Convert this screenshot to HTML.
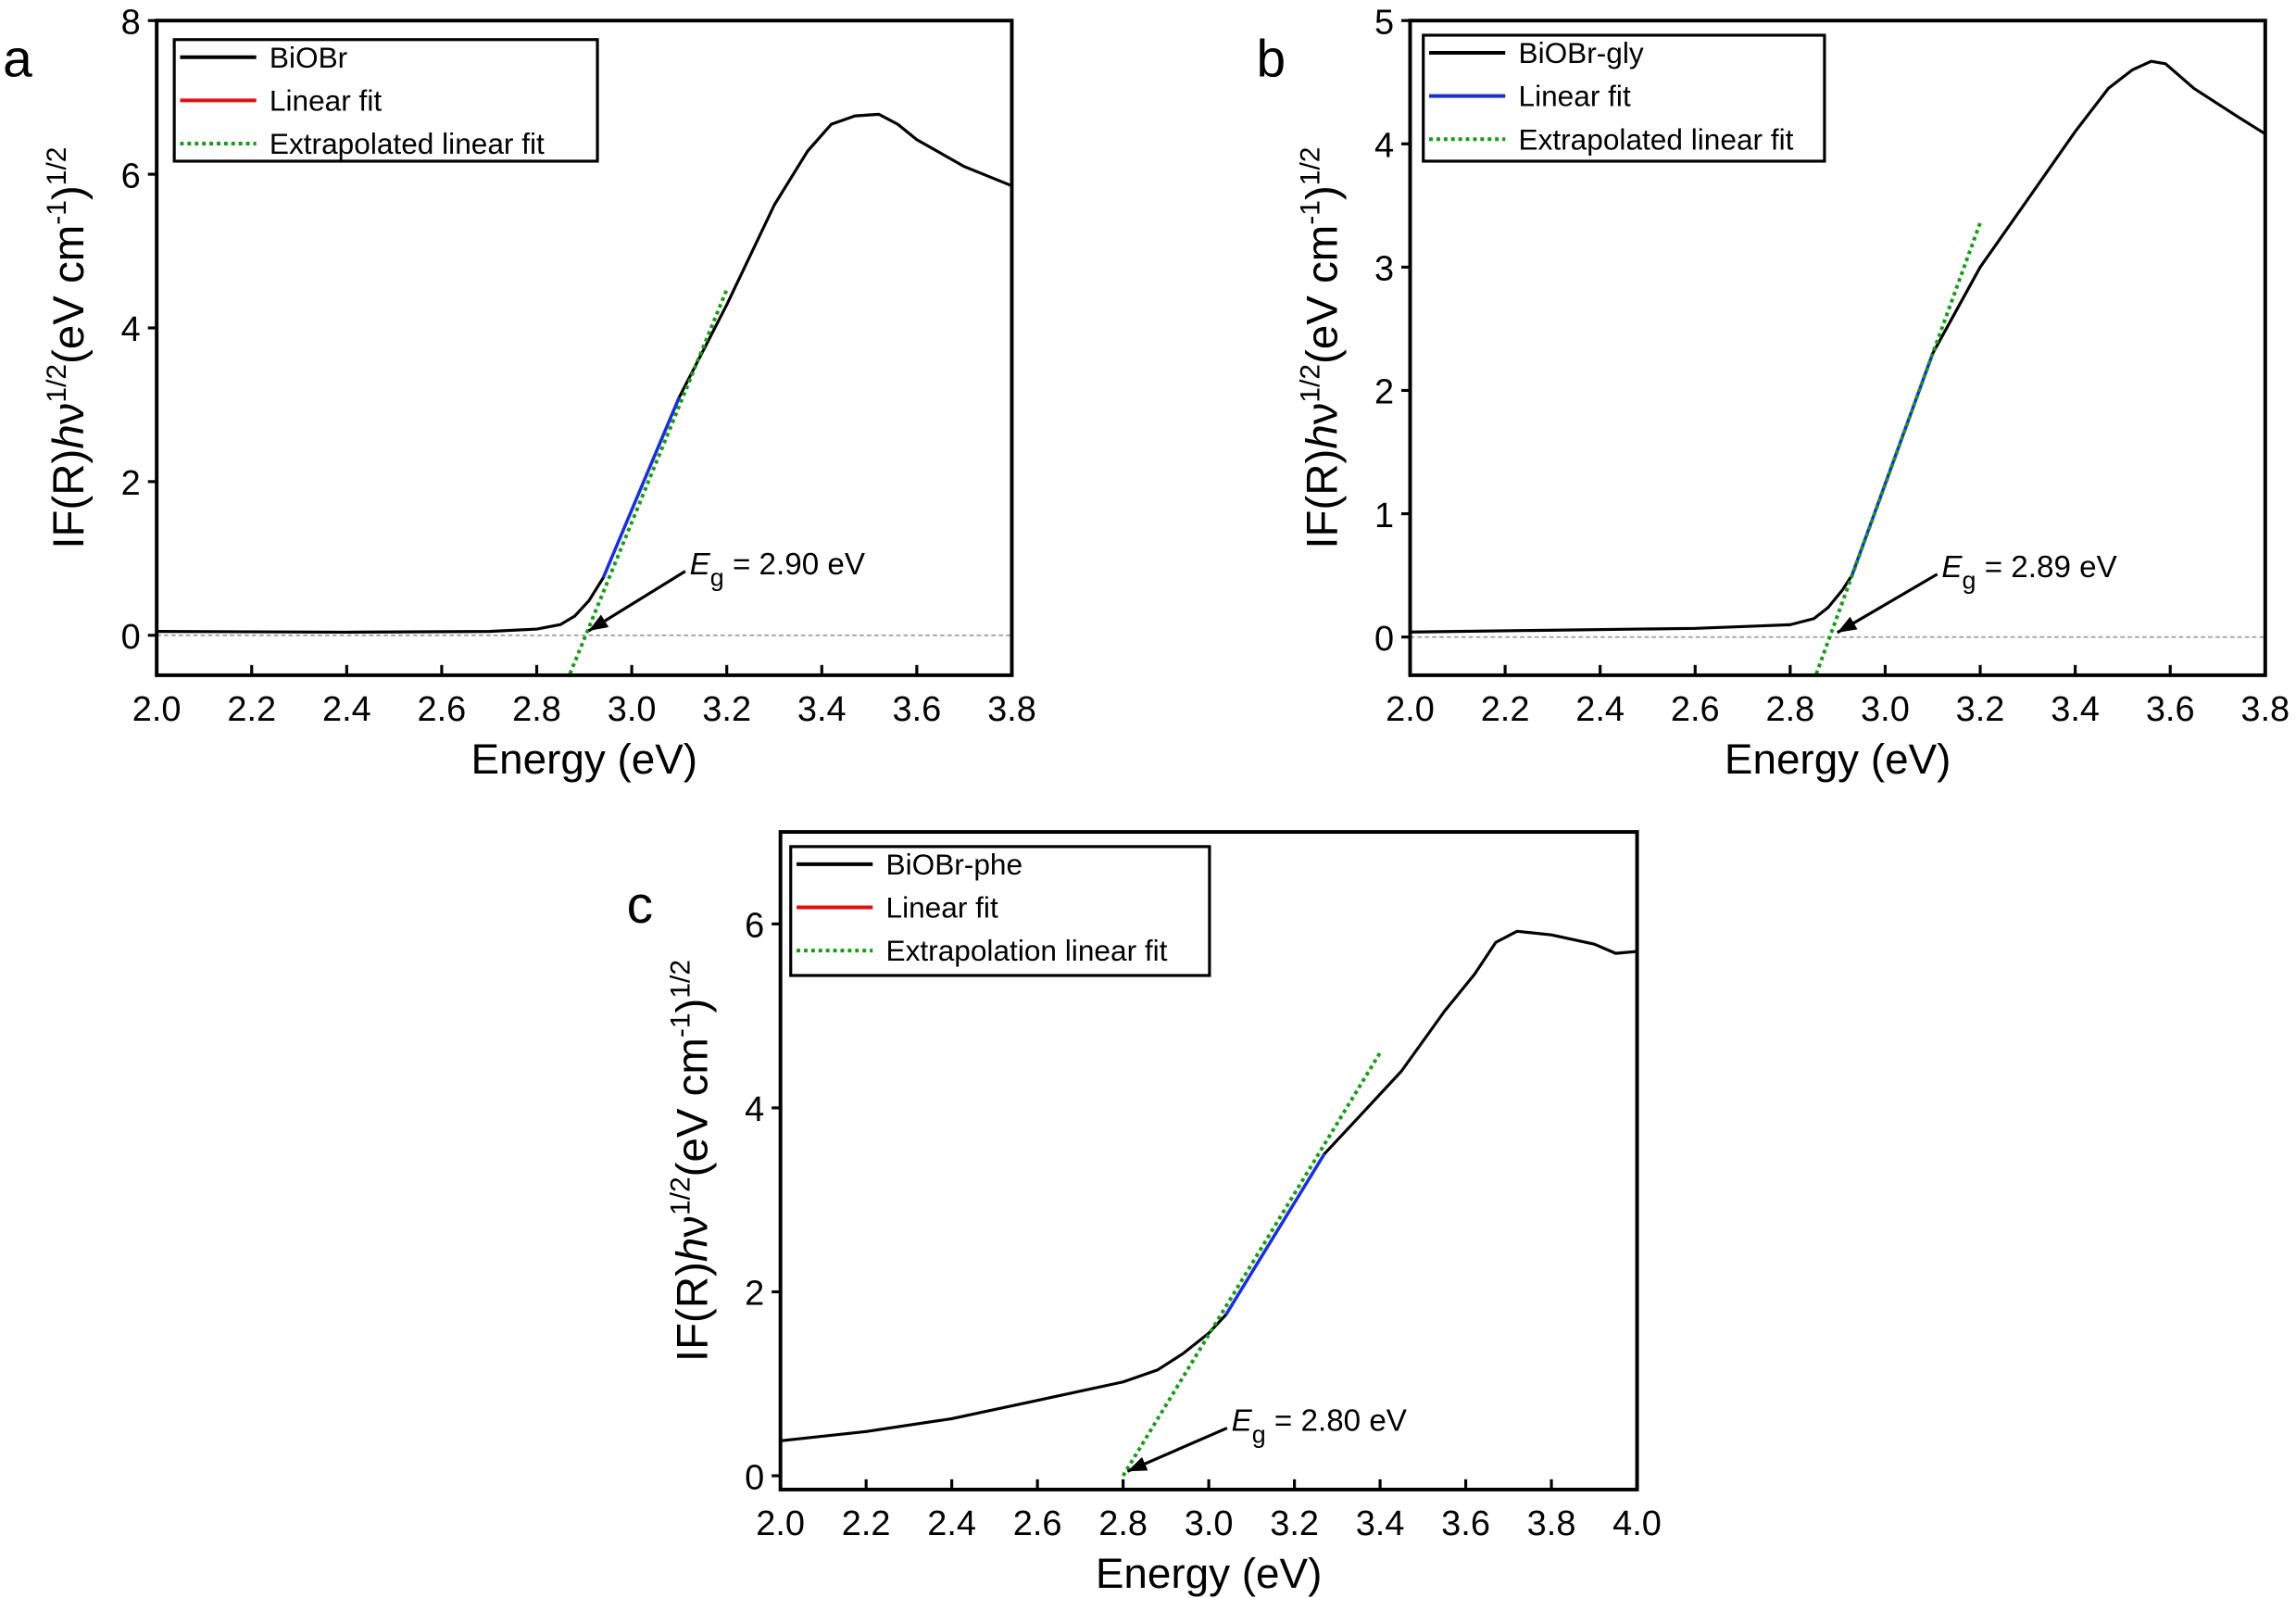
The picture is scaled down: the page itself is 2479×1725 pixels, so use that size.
<!DOCTYPE html>
<html><head><meta charset="utf-8"><style>
html,body{margin:0;padding:0;background:#fff}
svg{display:block}
text{font-family:"Liberation Sans",Arial,sans-serif;fill:#000}
</style></head><body>
<svg id="fig" width="2479" height="1725" viewBox="0 0 1568 1091" xmlns="http://www.w3.org/2000/svg"></svg>
<script>
// Panel a data
const aX=[2.0,2.4,2.7,2.8,2.85,2.88,2.91,2.94,3.0,3.1,3.2,3.3,3.37,3.42,3.47,3.52,3.56,3.6,3.7,3.8];
const aY=[0.05,0.04,0.05,0.08,0.14,0.25,0.45,0.75,1.63,3.1,4.3,5.6,6.3,6.65,6.76,6.78,6.65,6.45,6.1,5.85];
const aFitX=[2.94,3.1]; const aFitY=[0.75,3.1];
const aExtX=[2.87,3.2]; const aExtY=[-0.5,4.5];
// Panel b data
const bX=[2.0,2.6,2.8,2.85,2.88,2.91,2.93,3.0,3.1,3.2,3.3,3.4,3.47,3.52,3.56,3.59,3.65,3.75,3.8];
const bY=[0.04,0.07,0.1,0.15,0.24,0.38,0.5,1.24,2.3,3.0,3.55,4.1,4.45,4.6,4.67,4.65,4.45,4.2,4.08];
const bFitX=[2.93,3.1]; const bFitY=[0.5,2.3];
const bExtX=[2.855,3.2]; const bExtY=[-0.3,3.36];
// Panel c data
const cX=[2.0,2.2,2.4,2.6,2.8,2.88,2.94,3.0,3.04,3.1,3.27,3.35,3.45,3.55,3.62,3.67,3.72,3.8,3.9,3.95,4.0];
const cY=[0.38,0.48,0.62,0.82,1.02,1.15,1.33,1.55,1.75,2.21,3.5,3.9,4.4,5.05,5.45,5.8,5.92,5.88,5.78,5.68,5.7];
const cFitX=[3.04,3.27]; const cFitY=[1.75,3.5];
const cExtX=[2.8,3.4]; const cExtY=[0,4.6];
const aXTicks=[2.0,2.2,2.4,2.6,2.8,3.0,3.2,3.4,3.6,3.8];
const aYTicks=[0,2,4,6,8];
const bYTicks=[0,1,2,3,4,5];
const cXTicks=[2.0,2.2,2.4,2.6,2.8,3.0,3.2,3.4,3.6,3.8,4.0];
const cYTicks=[0,2,4,6];

const NS="http://www.w3.org/2000/svg";
const svg=document.getElementById('fig');
function mk(tag,attrs,parent){const e=document.createElementNS(NS,tag);for(const k in attrs)e.setAttribute(k,attrs[k]);(parent||svg).appendChild(e);return e;}

function panel(p){
  const g=mk('g',{});
  
  
  const sx=v=>p.L+(v-p.x0)/(p.x1-p.x0)*(p.R-p.L);
  const sy=v=>p.B-(v-p.y0)/(p.y1-p.y0)*(p.B-p.T);
  if(p.zero){const z=mk('line',{x1:p.L,x2:p.R,y1:sy(0),y2:sy(0),stroke:'#999','stroke-width':1,'stroke-dasharray':'3,2'},g);
    
    }
  let d=p.X.map((x,i)=>(i?'L':'M')+sx(x).toFixed(1)+','+sy(p.Y[i]).toFixed(1)).join('');
  const c=mk('path',{d:d,fill:'none',stroke:'#000','stroke-width':2,'stroke-linejoin':'round'},g);
  
  
  const f=mk('line',{x1:sx(p.fx[0]),y1:sy(p.fy[0]),x2:sx(p.fx[1]),y2:sy(p.fy[1]),stroke:'#1a2fd8','stroke-width':2.2},g);
  
  
  const e=mk('line',{x1:sx(p.ex[0]),y1:sy(p.ey[0]),x2:sx(p.ex[1]),y2:sy(p.ey[1]),stroke:'#1a9a1a','stroke-width':2.5,'stroke-dasharray':'2.5,2.5'},g);
  
  
  const fr=mk('rect',{x:p.L,y:p.T,width:p.R-p.L,height:p.B-p.T,fill:'none',stroke:'#000','stroke-width':2.5},g);
  
  
  p.xt.forEach(v=>{
    mk('line',{x1:sx(v),x2:sx(v),y1:p.B,y2:p.B-7,stroke:'#000','stroke-width':2},g);
    const t=mk('text',{x:sx(v),y:p.B+31,'font-size':24,'text-anchor':'middle'},g);t.textContent=v.toFixed(1);
    
    
  });
  p.yt.forEach(v=>{
    mk('line',{x1:p.L,x2:p.L-6,y1:sy(v),y2:sy(v),stroke:'#000','stroke-width':2},g);
    const t=mk('text',{x:p.L-11,y:sy(v)+9,'font-size':24,'text-anchor':'end'},g);t.textContent=v;
    
    
  });
  const xt=mk('text',{x:(p.L+p.R)/2,y:p.B+67,'font-size':29,'text-anchor':'middle'},g);xt.textContent='Energy (eV)';
  
  
  const yc=(p.T+p.B)/2;
  const yt=mk('text',{x:0,y:0,'font-size':30,'text-anchor':'middle',transform:`translate(${p.L-50},${yc}) rotate(-90)`},g);
  yt.innerHTML='IF(R)<tspan font-style="italic">h</tspan>ν<tspan font-size="19" dy="-12">1/2</tspan><tspan dy="12">(eV cm</tspan><tspan font-size="19" dy="-12">-1</tspan><tspan dy="12">)</tspan><tspan font-size="19" dy="-12">1/2</tspan>';
  
  
  const pl=mk('text',{x:p.lx,y:p.ly,'font-size':36},g);pl.textContent=p.id;
  
  
  const lg=mk('g',{},g);
  
  
  mk('rect',{x:p.lg[0],y:p.lg[1],width:p.lg[2],height:p.lg[3],fill:'#fff',stroke:'#000','stroke-width':2},lg);
  const rows=[[p.names[0],'#000',''],['Linear fit',p.fitCol,''],[p.names[1],'#1a9a1a','2.5,2.5']];
  rows.forEach((r,i)=>{
    const yy=p.lg[1]+12+i*29.5;
    mk('line',{x1:p.lg[0]+4,x2:p.lg[0]+56,y1:yy,y2:yy,stroke:r[1],'stroke-width':2.5,'stroke-dasharray':r[2]||'none'},lg);
    const t=mk('text',{x:p.lg[0]+65,y:yy+7,'font-size':20},lg);t.textContent=r[0];
    
    
  });
  const an=mk('g',{},g);
  
  
  const ax0=p.arr[0],ay0=p.arr[1],ax1=sx(p.eg)+3,ay1=sy(0)-3;
  mk('line',{x1:ax0,y1:ay0,x2:ax1,y2:ay1,stroke:'#000','stroke-width':2},an);
  const ang=Math.atan2(ay1-ay0,ax1-ax0);
  const hl=13,hw=5;
  const bx=ax1-hl*Math.cos(ang),by=ay1-hl*Math.sin(ang);
  mk('polygon',{points:`${ax1},${ay1} ${bx+hw*Math.sin(ang)},${by-hw*Math.cos(ang)} ${bx-hw*Math.sin(ang)},${by+hw*Math.cos(ang)}`,fill:'#000'},an);
  const at=mk('text',{x:ax0+3,y:ay0+2,'font-size':21},an);
  at.innerHTML='<tspan font-style="italic">E</tspan><tspan font-size="17" dy="8">g</tspan><tspan dy="-8"> = '+p.eg.toFixed(2)+' eV</tspan>';
}

panel({id:'a',L:107,R:691,T:14,B:461,x0:2.0,x1:3.8,y0:-0.52,y1:8,X:aX,Y:aY,fx:aFitX,fy:aFitY,ex:aExtX,ey:aExtY,
  xt:aXTicks,yt:aYTicks,zero:true,lx:2,ly:52,lg:[119,27,289,83],names:['BiOBr','Extrapolated linear fit'],fitCol:'#e01010',arr:[468,390],eg:2.90});
panel({id:'b',L:963,R:1547,T:14,B:461,x0:2.0,x1:3.8,y0:-0.31,y1:5,X:bX,Y:bY,fx:bFitX,fy:bFitY,ex:bExtX,ey:bExtY,
  xt:aXTicks,yt:bYTicks,zero:true,lx:858,ly:52,lg:[972,24,274,86],names:['BiOBr-gly','Extrapolated linear fit'],fitCol:'#1a2fd8',arr:[1323,392],eg:2.89});
panel({id:'c',L:533,R:1118,T:568,B:1017,x0:2.0,x1:4.0,y0:-0.15,y1:7,X:cX,Y:cY,fx:cFitX,fy:cFitY,ex:cExtX,ey:cExtY,
  xt:cXTicks,yt:cYTicks,zero:false,lx:428,ly:630,lg:[540,578,286,88],names:['BiOBr-phe','Extrapolation linear fit'],fitCol:'#e01010',arr:[838,975],eg:2.80});
</script>
</body></html>
